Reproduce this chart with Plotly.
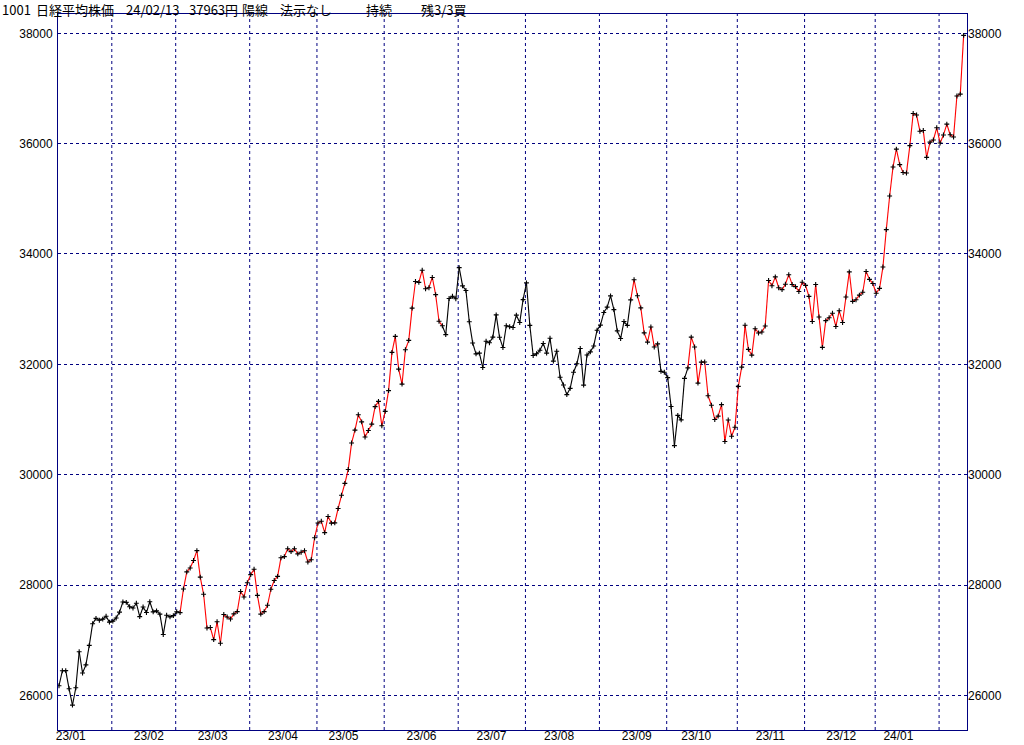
import plotly.graph_objects as go

# ---------------- data ----------------
month_labels = ["23/01", "23/02", "23/03", "23/04", "23/05", "23/06", "23/07",
                "23/08", "23/09", "23/10", "23/11", "23/12", "24/01"]
# centre of each month label, in trading-day units
month_label_pos = [3.5, 26.7, 45.7, 66.6, 84.6, 107.8, 128.6, 148.7, 171.8,
                   189.5, 211.5, 232.6, 249.6]
# trading days shown per month (23/01 from Jan 10 ... 24/02 up to Feb 13)
month_days = [16, 19, 22, 20, 20, 22, 20, 22, 20, 21, 20, 21, 19, 8]

c2023_01 = [26175, 26446, 26449, 26119, 25822, 26138, 26791, 26405, 26553, 26906,
            27299, 27395, 27362, 27382, 27433, 27327]
c2023_02 = [27346, 27402, 27509, 27693, 27685, 27606, 27584, 27670, 27427, 27602,
            27501, 27696, 27513, 27531, 27473, 27104, 27453, 27423, 27445]
c2023_03 = [27516, 27499, 27927, 28238, 28309, 28444, 28623, 28143, 27832, 27222,
            27229, 27010, 27333, 26945, 27466, 27419, 27385, 27476, 27518, 27883,
            27782, 28041]
c2023_04 = [28188, 28287, 27813, 27472, 27518, 27633, 27923, 28082, 28156, 28493,
            28514, 28658, 28606, 28657, 28564, 28593, 28620, 28416, 28457, 28856]
c2023_05 = [29123, 29157, 28949, 29242, 29122, 29126, 29388, 29626, 29842, 30093,
            30573, 30808, 31086, 30957, 30682, 30801, 30916, 31233, 31328, 30888]
c2023_06 = [31148, 31524, 32217, 32506, 31913, 31641, 32265, 32434, 33018, 33502,
            33485, 33706, 33370, 33388, 33575, 33264, 32781, 32698, 32538, 33193,
            33234, 33189]
c2023_07 = [33753, 33422, 33338, 32773, 32388, 32189, 32203, 31943, 32419, 32391,
            32493, 32896, 32490, 32304, 32700, 32682, 32668, 32891, 32759, 33172]
c2023_08 = [33476, 32707, 32159, 32192, 32254, 32377, 32204, 32473, 32059, 32238,
            31766, 31626, 31450, 31565, 31856, 32010, 32287, 31624, 32169, 32226,
            32333, 32619]
c2023_09 = [32710, 32939, 33036, 33241, 32991, 32606, 32467, 32776, 32706, 33168,
            33533, 33242, 33023, 32571, 32402, 32678, 32315, 32371, 31872, 31857]
c2023_10 = [31759, 31237, 30526, 31075, 30994, 31746, 31936, 32494, 32315, 31659,
            32040, 32042, 31430, 31259, 30999, 31062, 31269, 30601, 30991, 30696,
            30859]
c2023_11 = [31601, 31950, 32708, 32272, 32166, 32646, 32568, 32585, 32695, 33519,
            33424, 33585, 33388, 33354, 33452, 33625, 33448, 33409, 33321, 33487]
c2023_12 = [33431, 33231, 32776, 33446, 32858, 32307, 32792, 32844, 32926, 32686,
            32970, 32759, 33220, 33676, 33141, 33170, 33255, 33306, 33682, 33540,
            33464]
c2024_01 = [33288, 33377, 33763, 34441, 35050, 35578, 35901, 35620, 35478, 35467,
            35964, 36547, 36518, 36226, 36237, 35751, 36027, 36066, 36287]
c2024_02 = [36012, 36158, 36354, 36161, 36120, 36864, 36898, 37963]

# "buy held" periods (day index ranges whose incoming segment is drawn red)
hold_ranges = [(37, 114), (171, 178), (188, 269)]

y_ticks = [26000, 28000, 30000, 32000, 34000, 36000, 38000]

title_parts = ["1001", "日経平均株価", "24/02/13", "37963円", "陽線", "法示なし", "持続", "残3/3買"]
title_px = [1, 35, 125, 188, 241, 279, 365, 420]

# ---------------- build ----------------
closes = (c2023_01 + c2023_02 + c2023_03 + c2023_04 + c2023_05 + c2023_06 + c2023_07 +
          c2023_08 + c2023_09 + c2023_10 + c2023_11 + c2023_12 + c2024_01 + c2024_02)
xs = list(range(len(closes)))

def is_red(i):
    return any(a <= i <= b for a, b in hold_ranges)

bx, by, rx, ry = [], [], [], []
for i in range(1, len(closes)):
    if is_red(i):
        rx += [xs[i - 1], xs[i], None]
        ry += [closes[i - 1], closes[i], None]
    else:
        bx += [xs[i - 1], xs[i], None]
        by += [closes[i - 1], closes[i], None]

month_starts = []
acc = 0
for d in month_days[:-1]:
    acc += d
    month_starts.append(acc)

NAVY = "#000080"
FONT = "Liberation Sans, Arial, sans-serif"
JFONT = "Noto Sans CJK JP, Liberation Sans, sans-serif"

fig = go.Figure()
fig.add_trace(go.Scatter(x=bx, y=by, mode="lines", line=dict(color="black", width=1.1),
                         hoverinfo="skip", showlegend=False))
fig.add_trace(go.Scatter(x=rx, y=ry, mode="lines", line=dict(color="#ff0000", width=1.1),
                         hoverinfo="skip", showlegend=False))
fig.add_trace(go.Scatter(x=xs, y=closes, mode="markers",
                         marker=dict(symbol="cross-thin", size=3.5,
                                     line=dict(width=1.1, color="black"), color="black"),
                         showlegend=False))
# right-hand axis (labels only)
fig.add_trace(go.Scatter(x=[xs[0]], y=[closes[0]], yaxis="y2", mode="markers",
                         marker=dict(opacity=0), hoverinfo="skip", showlegend=False))

shapes = []
for m in month_starts:
    shapes.append(dict(type="line", xref="x", yref="paper", x0=m - 0.3, x1=m - 0.3,
                       y0=0, y1=1, layer="below",
                       line=dict(color=NAVY, width=1, dash="3px,3px")))

L, R, T, B = 58, 57, 14, 15
W, H = 1024, 745
pw = W - L - R

annotations = []
for txt, px in zip(title_parts, title_px):
    annotations.append(dict(text=txt, xref="paper", yref="paper",
                            x=(px - L) / pw, y=1, xanchor="left", yanchor="middle",
                            yshift=5, showarrow=False, borderpad=0,
                            font=dict(family=JFONT, size=13, color="black")))

yr = [25372, 38350]
fig.update_layout(
    width=W, height=H,
    margin=dict(l=L, r=R, t=T, b=B, pad=0, autoexpand=False),
    paper_bgcolor="white", plot_bgcolor="white",
    showlegend=False,
    shapes=shapes,
    annotations=annotations,
    xaxis=dict(range=[-0.3, 270.0], tickvals=month_label_pos, ticktext=month_labels,
               ticks="", showgrid=False, zeroline=False, showline=True, automargin=False,
               linecolor=NAVY, linewidth=1, mirror=True,
               tickfont=dict(family=FONT, size=12, color="black"),
               ticklabelstandoff=-5),
    yaxis=dict(range=yr, tickvals=y_ticks, ticktext=[str(v) for v in y_ticks],
               ticks="", showgrid=True, gridcolor=NAVY, gridwidth=1, griddash="3px,3px",
               zeroline=False, showline=True, linecolor=NAVY, linewidth=1, mirror=True,
               automargin=False,
               tickfont=dict(family=FONT, size=12, color="black"),
               ticklabelstandoff=2),
    yaxis2=dict(range=yr, overlaying="y", side="right", tickvals=y_ticks,
                ticktext=[str(v) for v in y_ticks], ticks="", showgrid=False,
                zeroline=False, showline=False, automargin=False,
                tickfont=dict(family=FONT, size=12, color="black"),
                ticklabelstandoff=0),
)

fig.write_html("out.html",
               config={"displayModeBar": False},
               post_script="document.body.style.margin='0';document.body.style.padding='0';")
